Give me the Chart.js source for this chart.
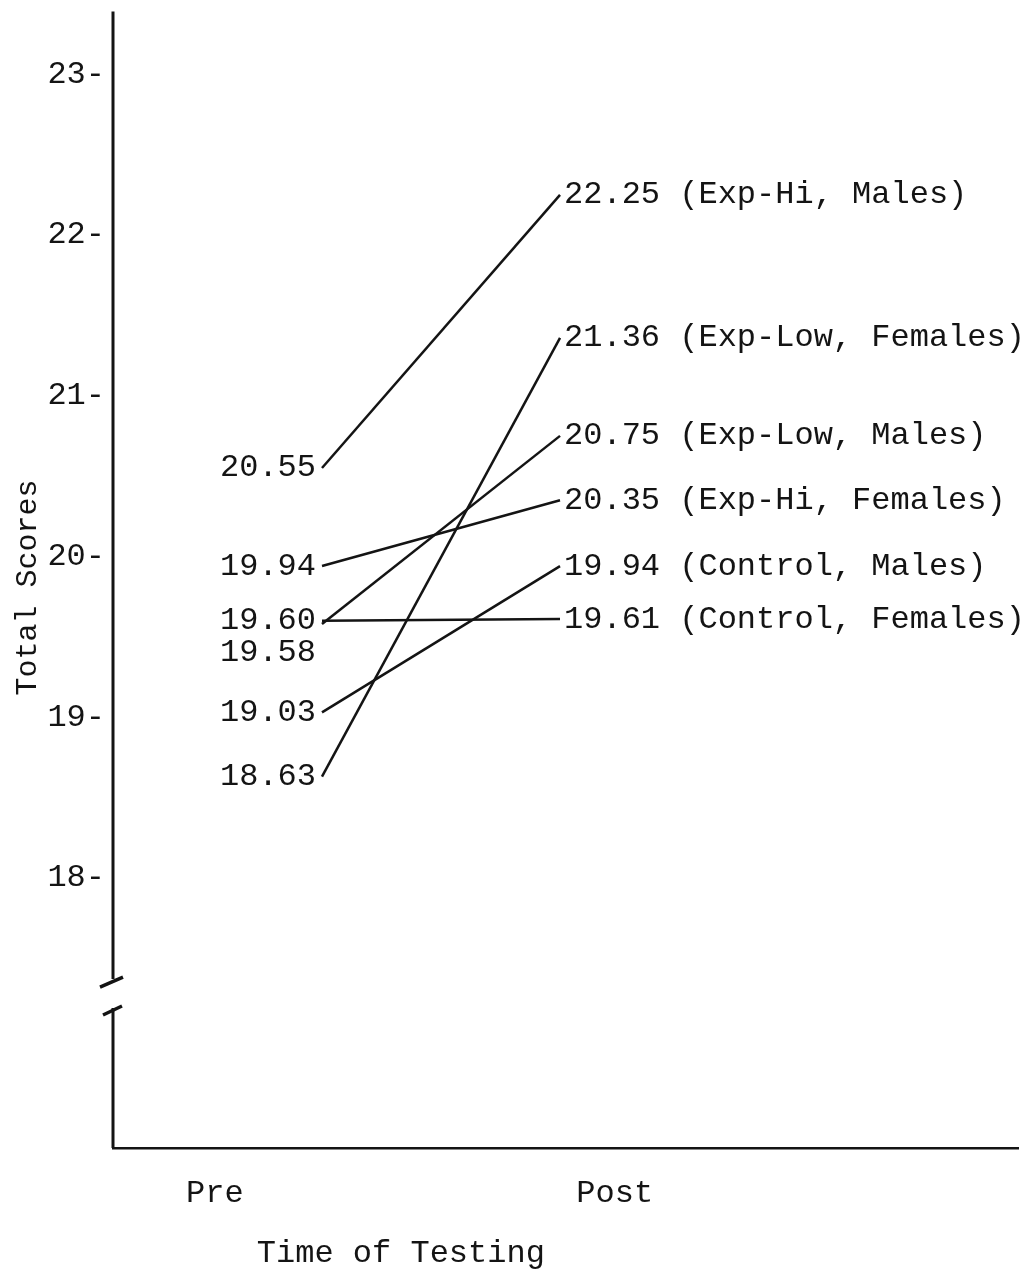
<!DOCTYPE html>
<html>
<head>
<meta charset="utf-8">
<script src="https://cdn.jsdelivr.net/npm/chart.js@4.4.1/dist/chart.umd.min.js"></script>
<style>
	html, body { margin: 0; padding: 0; background: #fff; }
	#box { width: 1033px; height: 1277px; position: relative; }
</style>
</head>
<body>
<div id="box"><canvas id="mycanvas"></canvas></div>
<script>
// values typed on the original figure
var timeLabels = ["Pre", "Post"];
var groups = ["Exp-Hi, Males", "Exp-Low, Females", "Exp-Low, Males", "Exp-Hi, Females", "Control, Males", "Control, Females"];
var preScores = [20.55, 18.63, 19.58, 19.94, 19.03, 19.60];
var postScores = [22.25, 21.36, 20.75, 20.35, 19.94, 19.61];
var yTicks = [18, 19, 20, 21, 22, 23];

var ink = "#141414";
var typeFont = "'Liberation Mono', 'DejaVu Sans Mono', monospace";

var datasets = [];
for (var i in groups) {
	datasets.push({
		label: groups[i],
		data: [{x: 0, y: preScores[i]}, {x: 1, y: postScores[i]}],
		borderColor: ink,
		borderWidth: 2.5,
		pointRadius: 0,
		fill: false
	});
}

// push labels apart so stacked numbers don't overlap
function spread(items, gap) {
	items.sort(function(a, b) { return a.y - b.y; });
	for (var k = 1; k < items.length; k++) {
		if (items[k].y - items[k-1].y < gap) items[k].y = items[k-1].y + gap;
	}
	return items;
}

var typed = {
	id: "typed",
	afterDraw: function(chart) {
		var ctx = chart.ctx;
		var area = chart.chartArea;
		var ys = chart.scales.y;
		var xs = chart.scales.x;
		ctx.save();
		ctx.strokeStyle = ink;
		ctx.lineCap = "butt";

		// broken y axis (runs a little above the last tick)
		var x0 = area.left;
		var top = ys.getPixelForValue(23.39);
		var b1 = ys.getPixelForValue(17.37);
		var b2 = ys.getPixelForValue(17.19);
		ctx.lineWidth = 3;
		ctx.beginPath();
		ctx.moveTo(x0, top);
		ctx.lineTo(x0, b1);
		ctx.moveTo(x0, b2);
		ctx.lineTo(x0, area.bottom);
		ctx.stroke();
		ctx.lineWidth = 3.5;
		ctx.beginPath();
		ctx.moveTo(x0 - 13, b1 + 8);
		ctx.lineTo(x0 + 10, b1 - 2);
		ctx.moveTo(x0 - 10, b2 + 7);
		ctx.lineTo(x0 + 9, b2 - 2);
		ctx.stroke();

		// value labels at both ends of each line
		ctx.fillStyle = ink;
		ctx.font = "32px " + typeFont;
		ctx.textBaseline = "middle";
		var left = [], right = [];
		for (var j = 0; j < groups.length; j++) {
			var meta = chart.getDatasetMeta(j);
			left.push({x: meta.data[0].x, y: meta.data[0].y, t: preScores[j].toFixed(2)});
			right.push({x: meta.data[1].x, y: meta.data[1].y, t: postScores[j].toFixed(2) + " (" + groups[j] + ")"});
		}
		ctx.textAlign = "right";
		spread(left, 32).forEach(function(l) { ctx.fillText(l.t, l.x - 6, l.y); });
		ctx.textAlign = "left";
		spread(right, 32).forEach(function(l) { ctx.fillText(l.t, l.x + 4, l.y); });

		// axis title, centred between Pre and Post
		var mid = (xs.getPixelForTick(0) + xs.getPixelForTick(1)) / 2;
		ctx.textAlign = "center";
		ctx.fillText("Time of Testing", mid - 14, area.bottom + 106);
		ctx.restore();
	}
};

var ctx = document.getElementById("mycanvas");

var chart = new Chart(ctx, {
	type: "line",
	data: { datasets: datasets },
	options: {
		responsive: true,
		maintainAspectRatio: false,
		animation: false,
		layout: { padding: { top: 12, right: 15, left: 0, bottom: 0 } },
		plugins: {
			legend: { display: false },
			tooltip: { enabled: false }
		},
		scales: {
			x: {
				type: "linear",
				min: -0.878,
				max: 2.924,
				afterBuildTicks: function(scale) {
					scale.ticks = [{value: -0.45}, {value: 1.23}];
				},
				afterFit: function(scale) { scale.height = 129; },
				grid: { display: false, drawTicks: false },
				border: { display: true, color: ink, width: 2.5 },
				ticks: {
					color: ink,
					font: { family: typeFont, size: 32 },
					padding: 26,
					maxRotation: 0,
					callback: function(v, idx) { return timeLabels[idx]; }
				}
			},
			y: {
				min: 16.319,
				max: 23.293,
				afterBuildTicks: function(scale) {
					scale.ticks = yTicks.map(function(v) { return {value: v}; });
				},
				afterFit: function(scale) { scale.width = 113; },
				grid: { display: false, drawTicks: false },
				border: { display: false },
				title: {
					display: true,
					text: "Total Scores",
					color: ink,
					font: { family: typeFont, size: 30 },
					padding: { top: 10, bottom: 0 }
				},
				ticks: {
					color: ink,
					font: { family: typeFont, size: 32 },
					padding: 8,
					callback: function(v) { return v + "-"; }
				}
			}
		}
	},
	plugins: [typed]
});
</script>
</body>
</html>
